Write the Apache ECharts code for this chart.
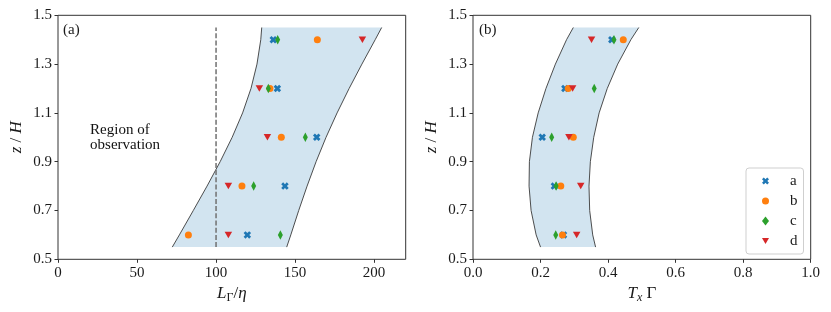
<!DOCTYPE html>
<html><head><meta charset="utf-8">
<script src="https://cdn.jsdelivr.net/npm/echarts@6/dist/echarts.min.js"></script>
<style>html,body{margin:0;padding:0;background:#fff}#c{width:831px;height:312px}</style>
</head><body><div id="c"></div>
<script>
// ---- data ----
const zRows = [0.6, 0.8, 1.0, 1.2, 1.4];
const L_a = [119.8, 143.6, 163.7, 138.8, 136.2];
const L_b = [82.5, 116.4, 141.3, 134.1, 164.1];
const L_c = [140.7, 123.8, 156.5, 133.1, 139.0];
const L_d = [107.8, 107.8, 132.5, 127.4, 192.6];
const T_a = [0.268, 0.241, 0.205, 0.272, 0.411];
const T_b = [0.265, 0.260, 0.297, 0.282, 0.445];
const T_c = [0.245, 0.246, 0.233, 0.359, 0.4175];
const T_d = [0.307, 0.319, 0.284, 0.295, 0.351];
const bandZ    = [0.55, 0.6, 0.7, 0.8, 0.9, 1.0, 1.1, 1.2, 1.3, 1.4, 1.45];
const bandLmin = [72.3, 76.8, 85.6, 94.3, 102.6, 110.2, 116.8, 122.1, 125.9, 128.3, 128.9];
const bandLmax = [144.7, 147.3, 152.3, 157.6, 163.3, 169.6, 176.6, 184.2, 192.3, 200.7, 204.8];
const bandTmin = [0.200, 0.187, 0.172, 0.166, 0.167, 0.176, 0.193, 0.216, 0.244, 0.277, 0.297];
const bandTmax = [0.363, 0.3545, 0.3455, 0.3435, 0.3475, 0.3575, 0.3735, 0.3975, 0.4285, 0.4675, 0.491];
const obsX = 100;
const obsZ = [0.55, 1.45];
const zTicks = [0.5, 0.7, 0.9, 1.1, 1.3, 1.5];
const lTicks = [0, 50, 100, 150, 200];
const tTicks = [0, 0.2, 0.4, 0.6, 0.8, 1.0];
const names = ['a', 'b', 'c', 'd'];
const regionText = 'Region of\nobservation';
const regionPos = [20, 1.0];

// ---- styles ----
const SERIF = "'Liberation Serif', 'DejaVu Serif', serif";
const COLORS = ['#1f77b4', '#ff7f0e', '#2ca02c', '#d62728'];
const SYM_X = 'path://M-5,-2.4 L-2.4,-5 L0,-2.6 L2.4,-5 L5,-2.4 L2.6,0 L5,2.4 L2.4,5 L0,2.6 L-2.4,5 L-5,2.4 L-2.6,0 Z';
const SYM_V = 'path://M0,0 L10,0 L5,8.66 Z';
const SYMBOLS = [SYM_X, 'circle', 'diamond', SYM_V];
const SIZES = [7.5, 7, [5, 9.5], [7.5, 6.5]];
const INK = '#1a1a1a';

const richName = {
  i: {fontFamily: SERIF, fontStyle: 'italic', fontSize: 17, color: INK, lineHeight: 20},
  n: {fontFamily: SERIF, fontSize: 17, color: INK, lineHeight: 20},
  s: {fontFamily: SERIF, fontSize: 12, color: INK, lineHeight: 12, verticalAlign: 'bottom'},
  si: {fontFamily: SERIF, fontStyle: 'italic', fontSize: 12, color: INK, lineHeight: 12, verticalAlign: 'bottom'}
};

function xAxisDef(gi, min, max, ticks, fmt, name) {
  return {
    gridIndex: gi, type: 'value', min: min, max: max,
    axisLine: {show: false}, splitLine: {show: false},
    axisTick: {show: true, length: 3.5, lineStyle: {color: '#333', width: 1}, customValues: ticks},
    axisLabel: {customValues: ticks, formatter: fmt, fontFamily: SERIF, fontSize: 15, color: INK, margin: 6},
    name: name, nameLocation: 'middle', nameGap: 23,
    nameTextStyle: {rich: richName}
  };
}
function yAxisDef(gi) {
  return {
    gridIndex: gi, type: 'value', min: 0.5, max: 1.5,
    axisLine: {show: false}, splitLine: {show: false},
    axisTick: {show: true, length: 3.5, lineStyle: {color: '#333', width: 1}, customValues: zTicks},
    axisLabel: {customValues: zTicks, formatter: v => v.toFixed(1), fontFamily: SERIF, fontSize: 15, color: INK, margin: 6},
    name: '{i|z}{n| / }{i|H}', nameLocation: 'middle', nameGap: 31,
    nameTextStyle: {rich: richName}
  };
}
function bandSeries(idx, mins, maxs) {
  return {
    type: 'custom', xAxisIndex: idx, yAxisIndex: idx, silent: true, z: 1,
    data: bandZ.map((z, i) => [mins[i], maxs[i], z]),
    encode: {x: [0, 1], y: 2},
    renderItem: function (params, api) {
      if (params.dataIndex !== 0) return null;
      const left = bandZ.map((z, i) => api.coord([mins[i], z]));
      const right = bandZ.map((z, i) => api.coord([maxs[i], z]));
      const poly = left.concat(right.slice().reverse());
      return {type: 'group', children: [
        {type: 'polygon', shape: {points: poly}, style: {fill: '#d2e4f0', stroke: null}},
        {type: 'polyline', shape: {points: left}, style: {stroke: '#3a3a3a', lineWidth: 0.9, fill: null}},
        {type: 'polyline', shape: {points: right}, style: {stroke: '#3a3a3a', lineWidth: 0.9, fill: null}}
      ]};
    }
  };
}
function scatterSeries(idx, k, vals) {
  return {
    type: 'scatter', name: names[k], xAxisIndex: idx, yAxisIndex: idx, z: 3 + k,
    symbol: SYMBOLS[k], symbolSize: SIZES[k],
    itemStyle: {color: COLORS[k], opacity: 1},
    data: zRows.map((z, i) => [vals[i], z])
  };
}

const series = [
  bandSeries(0, bandLmin, bandLmax),
  bandSeries(1, bandTmin, bandTmax),
  {
    type: 'line', xAxisIndex: 0, yAxisIndex: 0, silent: true, z: 2, symbol: 'none',
    lineStyle: {color: '#707070', width: 1.5, type: [5, 2.2]},
    data: obsZ.map(z => [obsX, z])
  },
  {
    type: 'scatter', xAxisIndex: 0, yAxisIndex: 0, silent: true, z: 2,
    symbolSize: 1, itemStyle: {color: '#ffffff', opacity: 1},
    label: {show: true, position: 'right', distance: 0, formatter: regionText,
      fontFamily: SERIF, fontSize: 15, lineHeight: 14.7, color: '#111', opacity: 1, align: 'left'},
    data: [regionPos]
  }
];
[L_a, L_b, L_c, L_d].forEach((v, k) => series.push(scatterSeries(0, k, v)));
[T_a, T_b, T_c, T_d].forEach((v, k) => series.push(scatterSeries(1, k, v)));

const chart = echarts.init(document.getElementById('c'), null, {renderer: 'canvas'});
chart.setOption({
  animation: false,
  backgroundColor: '#fff',
  grid: [
    {left: 58, top: 15.3, width: 347.7, height: 244, show: true, borderColor: '#333', borderWidth: 1, backgroundColor: 'rgba(0,0,0,0)'},
    {left: 473, top: 15.3, width: 337.7, height: 244, show: true, borderColor: '#333', borderWidth: 1, backgroundColor: 'rgba(0,0,0,0)'}
  ],
  xAxis: [
    xAxisDef(0, 0, 220, lTicks, v => String(Math.round(v)), '{i|L}{s|Γ}{n|/}{i|η}'),
    xAxisDef(1, 0, 1, tTicks, v => v.toFixed(1), '{i|T}{si|x}{n| Γ}')
  ],
  yAxis: [yAxisDef(0), yAxisDef(1)],
  legend: {
    data: names.map((n, k) => ({name: n, icon: SYMBOLS[k]})),
    orient: 'vertical', left: 746, top: 168,
    itemWidth: 7, itemHeight: 9, itemGap: 4,
    padding: [5, 6, 5, 16],
    borderColor: '#cfcfcf', borderWidth: 1, borderRadius: 3,
    backgroundColor: 'rgba(255,255,255,0.8)',
    selectedMode: false,
    textStyle: {fontFamily: SERIF, fontSize: 15, color: INK, lineHeight: 16, padding: [0, 0, 0, 16]}
  },
  graphic: [
    {type: 'text', left: 63, top: 23, style: {text: '(a)', fontFamily: SERIF, fontSize: 15, fill: INK}},
    {type: 'text', left: 479, top: 23, style: {text: '(b)', fontFamily: SERIF, fontSize: 15, fill: INK}}
  ],
  series: series
});
</script>
</body></html>
